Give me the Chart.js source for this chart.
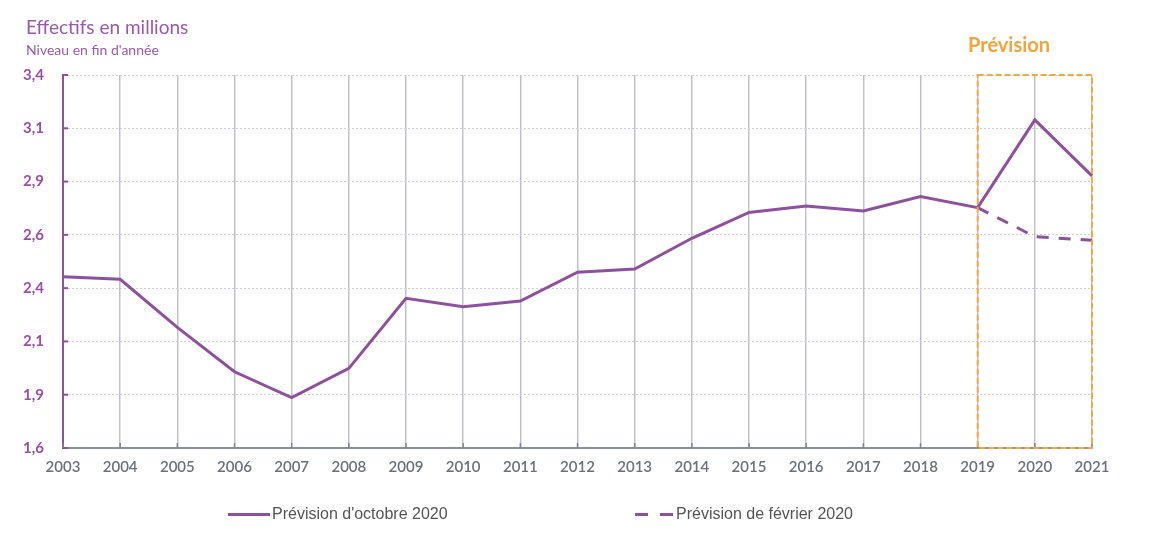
<!DOCTYPE html>
<html lang="fr">
<head>
<meta charset="utf-8">
<script src="https://cdn.jsdelivr.net/npm/chart.js@4.4.0/dist/chart.umd.min.js"></script>
<style>
    body { margin: 0; background: #fff; }
    #wrap { position: relative; width: 1168px; height: 545px; }
    #chart { position: absolute; left: 0; top: 0; }
    .title { position: absolute; left: 26px; top: 15px; font: 19px Lato, sans-serif; color: #9a5aa9; }
    .subtitle { position: absolute; left: 26px; top: 41px; font: 14px Lato, sans-serif; color: #9a5aa9; }
    .prev { position: absolute; left: 968px; top: 32px; font: bold 20px Lato, sans-serif; color: #f5a43a; }
    .legend { position: absolute; top: 505px; font: 16px "Liberation Sans", Arial, sans-serif; color: #555; display: flex; align-items: center; }
    .legend .swatch { width: 42px; height: 0; border-top: 3px solid #9050a0; margin-right: 2px; }
    .legend .dash { width: 13px; height: 0; border-top: 3px solid #9050a0; }
</style>
</head>
<body>
<div id="wrap">
    <canvas id="chart" width="1168" height="545"></canvas>
    <div class="title">Effectifs en millions</div>
    <div class="subtitle">Niveau en fin d'année</div>
    <div class="prev">Prévision</div>
    <div class="legend" style="left:228px"><span class="swatch"></span>Prévision d'octobre 2020</div>
    <div class="legend" style="left:635px"><span class="dash"></span><span style="width:12px"></span><span class="dash" style="margin-right:3px"></span>Prévision de février 2020</div>
</div>
<script>
// ---- data ----
const years = ['2003', '2004', '2005', '2006', '2007', '2008', '2009', '2010', '2011', '2012',
               '2013', '2014', '2015', '2016', '2017', '2018', '2019', '2020', '2021'];

const previsionOctobre = [2.427, 2.414, 2.182, 1.968, 1.843, 1.984, 2.322, 2.282, 2.309, 2.448,
                          2.464, 2.612, 2.737, 2.768, 2.744, 2.813, 2.760, 3.183, 2.913];

const previsionFevrier = [null, null, null, null, null, null, null, null, null, null,
                          null, null, null, null, null, null, 2.760, 2.620, 2.602];

const yMin = 1.6;
const yMax = 3.4;
const yTickLabels = ['1,6', '1,9', '2,1', '2,4', '2,6', '2,9', '3,1', '3,4'];

const forecastFrom = '2019';
const forecastTo = '2021';

const purple = '#9050a0';
const orange = '#f7a83c';

// orange dashed box around the forecast years + inside tick marks
const extrasPlugin = {
    id: 'extras',
    afterDatasetsDraw(chart) {
        const { ctx, chartArea, scales: { x, y } } = chart;
        ctx.save();

        // small inward ticks on the y axis
        ctx.strokeStyle = purple;
        ctx.lineWidth = 2;
        y.ticks.forEach(t => {
            const py = y.getPixelForValue(t.value);
            ctx.beginPath();
            ctx.moveTo(chartArea.left, py);
            ctx.lineTo(chartArea.left + 5, py);
            ctx.stroke();
        });

        // small inward ticks on the x axis
        ctx.strokeStyle = '#7f858d';
        ctx.lineWidth = 1.5;
        years.forEach((_, i) => {
            const px = x.getPixelForValue(i);
            ctx.beginPath();
            ctx.moveTo(px, chartArea.bottom);
            ctx.lineTo(px, chartArea.bottom - 5);
            ctx.stroke();
        });

        const x0 = x.getPixelForValue(years.indexOf(forecastFrom));
        const x1 = x.getPixelForValue(years.indexOf(forecastTo));
        ctx.strokeStyle = orange;
        ctx.lineWidth = 2;
        ctx.setLineDash([6, 3]);
        ctx.strokeRect(x0, chartArea.top, x1 - x0, chartArea.bottom - chartArea.top);
        ctx.restore();
    }
};

const ctx = document.getElementById('chart').getContext('2d');

new Chart(ctx, {
    type: 'line',
    data: {
        labels: years,
        datasets: [
            {
                label: "Prévision de février 2020",
                data: previsionFevrier,
                borderColor: purple,
                borderWidth: 3,
                borderDash: [12, 10],
                pointRadius: 0,
                tension: 0,
                fill: false
            },
            {
                label: "Prévision d'octobre 2020",
                data: previsionOctobre,
                borderColor: purple,
                borderWidth: 3,
                pointRadius: 0,
                tension: 0,
                fill: false
            }
        ]
    },
    options: {
        responsive: false,
        animation: false,
        layout: { padding: { top: 75, right: 76, left: 0, bottom: 0 } },
        plugins: {
            legend: { display: false },
            tooltip: { enabled: false }
        },
        scales: {
            x: {
                offset: false,
                grid: {
                    color: (c) => c.index === 0 ? 'rgba(0,0,0,0)' : '#bfc3c9',
                    lineWidth: 1.5,
                    drawTicks: false
                },
                border: { display: true, color: '#8a9099', width: 2 },
                ticks: {
                    color: '#6b717b',
                    padding: 10,
                    maxRotation: 0,
                    autoSkip: false,
                    font: { family: 'Lato, sans-serif', size: 15, weight: '600' }
                },
                afterFit(scale) { scale.height = 97; }
            },
            y: {
                min: yMin,
                max: yMax,
                afterBuildTicks(scale) {
                    const n = yTickLabels.length - 1;
                    scale.ticks = yTickLabels.map((_, i) => ({ value: yMin + (yMax - yMin) * i / n }));
                },
                grid: {
                    color: '#cfcfcf',
                    lineWidth: 1,
                    drawTicks: false
                },
                border: { display: true, color: purple, width: 2, dash: [2, 2] },
                ticks: {
                    color: '#9a4fa6',
                    padding: 19,
                    font: { family: 'Lato, sans-serif', size: 15, weight: 'bold' },
                    callback: function (value, index) {
                        return yTickLabels[index];
                    }
                },
                afterFit(scale) { scale.width = 63; }
            }
        }
    },
    plugins: [extrasPlugin]
});
</script>
</body>
</html>
